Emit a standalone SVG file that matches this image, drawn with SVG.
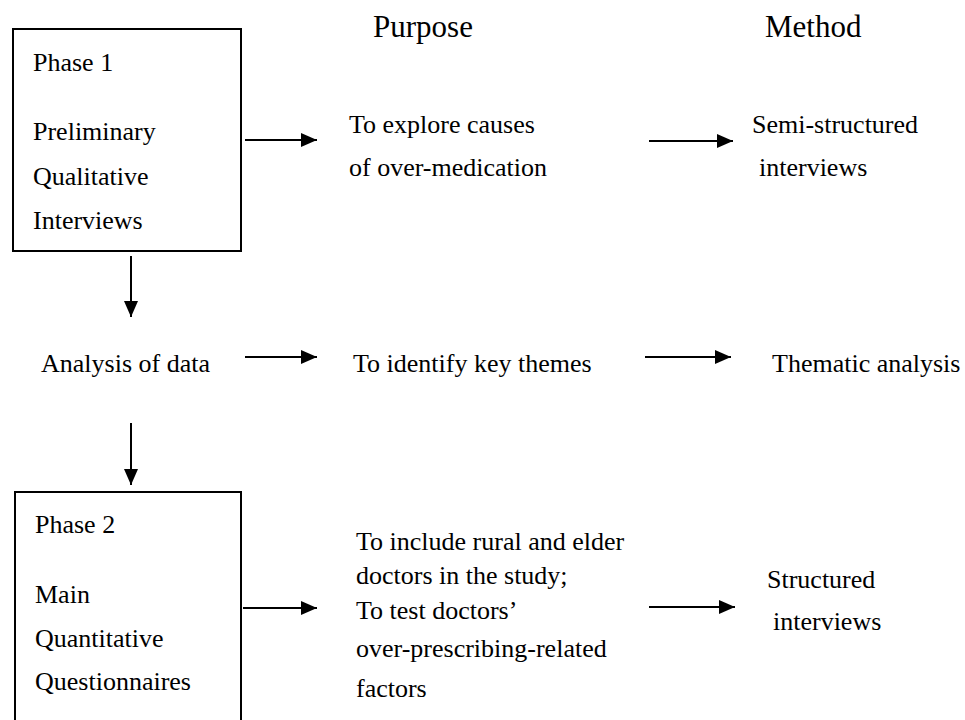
<svg xmlns="http://www.w3.org/2000/svg" width="965" height="720" viewBox="0 0 965 720">
  <style>
    text { font-family: "Liberation Serif", "Times New Roman", serif; font-size: 26px; fill: #000; }
    .head { font-size: 31px; }
    .box { fill: #fff; stroke: #000; stroke-width: 2; }
    .link { stroke: #000; stroke-width: 2; fill: none; marker-end: url(#arrow); }
  </style>
  <defs>
    <marker id="arrow" viewBox="0 0 16 14" refX="16" refY="7" markerWidth="16" markerHeight="14" markerUnits="userSpaceOnUse" orient="auto">
      <path d="M0,0 L16,7 L0,14 Z" fill="#000"/>
    </marker>
  </defs>
  <rect width="965" height="720" fill="#fff"/>

  <!-- column headings -->
  <g id="heading-purpose"><text class="head" x="373" y="37">Purpose</text></g>
  <g id="heading-method"><text class="head" x="765" y="37">Method</text></g>

  <!-- phase 1 -->
  <g id="phase1">
    <rect class="box" x="13" y="29" width="228" height="222"/>
    <text x="33" y="71">Phase 1</text>
    <text x="33" y="140">Preliminary</text>
    <text x="33" y="185">Qualitative</text>
    <text x="33" y="229">Interviews</text>
  </g>
  <g id="purpose1">
    <text x="349" y="133">To explore causes</text>
    <text x="349" y="176">of over-medication</text>
  </g>
  <g id="method1">
    <text x="752" y="133">Semi-structured</text>
    <text x="759" y="176">interviews</text>
  </g>

  <!-- analysis -->
  <g id="analysis"><text x="41" y="372">Analysis of data</text></g>
  <g id="purpose2"><text x="353" y="372">To identify key themes</text></g>
  <g id="method2"><text x="772" y="372">Thematic analysis</text></g>

  <!-- phase 2 -->
  <g id="phase2">
    <rect class="box" x="15" y="492" width="226" height="240"/>
    <text x="35" y="533">Phase 2</text>
    <text x="35" y="603">Main</text>
    <text x="35" y="647">Quantitative</text>
    <text x="35" y="690">Questionnaires</text>
  </g>
  <g id="purpose3">
    <text x="356" y="550">To include rural and elder</text>
    <text x="356" y="584">doctors in the study;</text>
    <text x="356" y="619">To test doctors’</text>
    <text x="356" y="657">over-prescribing-related</text>
    <text x="356" y="697">factors</text>
  </g>
  <g id="method3">
    <text x="767" y="588">Structured</text>
    <text x="773" y="630">interviews</text>
  </g>

  <!-- connectors -->
  <g id="connectors">
    <line class="link" x1="245" y1="140" x2="317" y2="140"/>
    <line class="link" x1="649" y1="141" x2="733" y2="141"/>
    <line class="link" x1="131" y1="256" x2="131" y2="317"/>
    <line class="link" x1="245" y1="357" x2="317" y2="357"/>
    <line class="link" x1="645" y1="357" x2="731" y2="357"/>
    <line class="link" x1="131" y1="423" x2="131" y2="485"/>
    <line class="link" x1="243" y1="608" x2="317" y2="608"/>
    <line class="link" x1="649" y1="607" x2="735" y2="607"/>
  </g>
</svg>
